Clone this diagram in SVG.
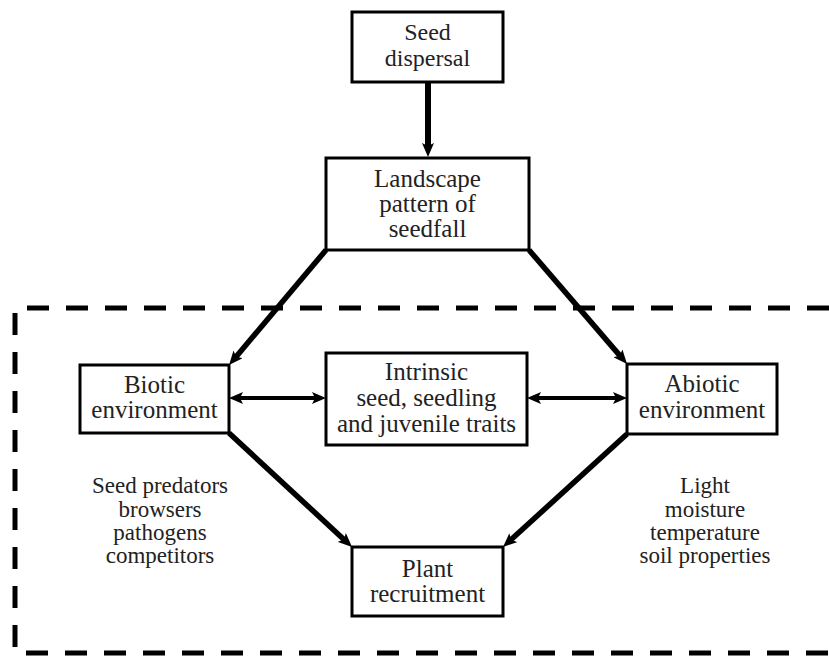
<svg xmlns="http://www.w3.org/2000/svg" width="829" height="658" viewBox="0 0 829 658">
<style>
  .box { fill: #fff; stroke: #000; stroke-width: 3; }
  .t { font-family: "Liberation Serif", "Times New Roman", serif; font-size: 25px; fill: #222; text-anchor: middle; }
  .s { font-family: "Liberation Serif", "Times New Roman", serif; font-size: 23px; fill: #222; text-anchor: middle; }
  .arr { stroke: #000; stroke-width: 5.5; fill: none; marker-end: url(#head); }
  .dbl { stroke: #000; stroke-width: 4; fill: none; marker-end: url(#head2); marker-start: url(#head2); }
</style>
<defs>
  <marker id="head" viewBox="0 0 14 12" markerUnits="userSpaceOnUse" markerWidth="14" markerHeight="12" refX="4" refY="6" orient="auto">
    <path d="M0,0 L14,6 L0,12 L3,6 Z" fill="#000"/>
  </marker>
  <marker id="head2" viewBox="0 0 14 12" markerUnits="userSpaceOnUse" markerWidth="14" markerHeight="12" refX="4" refY="6" orient="auto-start-reverse">
    <path d="M0,0 L14,6 L0,12 L3,6 Z" fill="#000"/>
  </marker>
</defs>
<rect width="829" height="658" fill="#fff"/>
<path id="region" d="M829,308 H15 V653 H829" fill="none" stroke="#000" stroke-width="5" stroke-dasharray="22 17"/>
<g id="connectors">
  <line class="arr" x1="428" y1="82" x2="428" y2="147" style="stroke-width:6"/>
  <line class="arr" x1="326" y1="250" x2="235.5" y2="357.4"/>
  <line class="arr" x1="529" y1="250" x2="620.5" y2="356.4"/>
  <line class="arr" x1="229" y1="433" x2="344.7" y2="540.2"/>
  <line class="arr" x1="627" y1="434" x2="510.4" y2="540.3"/>
  <line class="dbl" x1="239" y1="398" x2="316" y2="398"/>
  <line class="dbl" x1="537" y1="398" x2="617" y2="398"/>
</g>
<g id="seed-dispersal">
  <rect class="box" x="352" y="12" width="151" height="70"/>
  <text class="t" x="427.5" y="40" style="font-size:24px">Seed</text>
  <text class="t" x="427.5" y="66" style="font-size:24px">dispersal</text>
</g>
<g id="landscape">
  <rect class="box" x="326" y="158" width="203" height="92"/>
  <text class="t" x="427.5" y="187">Landscape</text>
  <text class="t" x="427.5" y="212">pattern of</text>
  <text class="t" x="427.5" y="237">seedfall</text>
</g>
<g id="biotic">
  <rect class="box" x="80" y="365" width="149" height="68"/>
  <text class="t" x="154.5" y="393">Biotic</text>
  <text class="t" x="154.5" y="418">environment</text>
</g>
<g id="intrinsic">
  <rect class="box" x="326" y="353" width="201" height="92"/>
  <text class="t" x="426.5" y="380">Intrinsic</text>
  <text class="t" x="426.5" y="406">seed, seedling</text>
  <text class="t" x="426.5" y="432">and juvenile traits</text>
</g>
<g id="abiotic">
  <rect class="box" x="627" y="364" width="150" height="70"/>
  <text class="t" x="702" y="392">Abiotic</text>
  <text class="t" x="702" y="418">environment</text>
</g>
<g id="plant">
  <rect class="box" x="352" y="547" width="151" height="69"/>
  <text class="t" x="427.5" y="577">Plant</text>
  <text class="t" x="427.5" y="602">recruitment</text>
</g>
<g id="biotic-factors">
  <text class="s" x="160" y="493">Seed predators</text>
  <text class="s" x="160" y="517">browsers</text>
  <text class="s" x="160" y="540">pathogens</text>
  <text class="s" x="160" y="563">competitors</text>
</g>
<g id="abiotic-factors">
  <text class="s" x="705" y="493">Light</text>
  <text class="s" x="705" y="517">moisture</text>
  <text class="s" x="705" y="540">temperature</text>
  <text class="s" x="705" y="563">soil properties</text>
</g>
</svg>
